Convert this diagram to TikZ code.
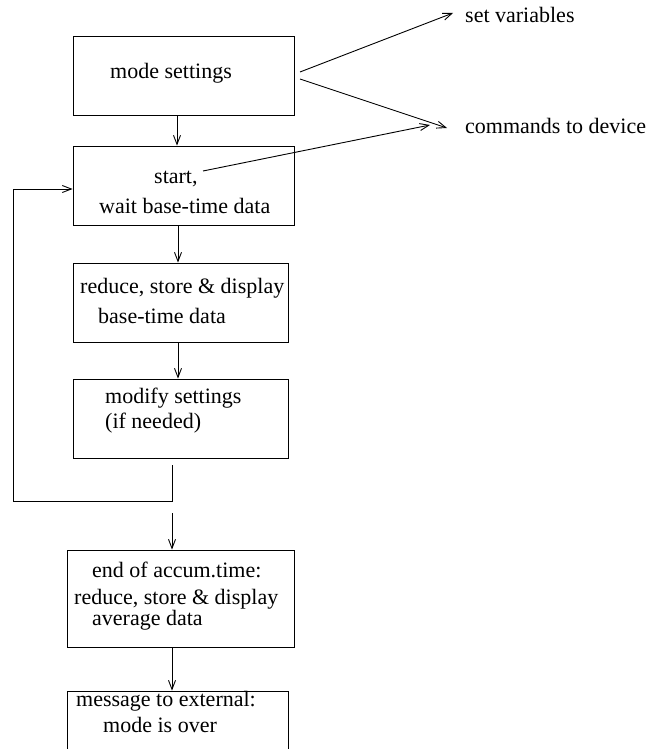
\documentclass[tikz,border=0pt]{standalone}
\usepackage{fontspec}
\setmainfont{Liberation Serif}
\newfontfamily\labelfont{Liberation Serif}
\usetikzlibrary{arrows.meta}
\tikzset{
  box/.style={draw, line width=0.9pt, rectangle, inner sep=0pt},
  txt/.style={anchor=base west, inner sep=0pt, font=\labelfont\fontsize{22}{26}\selectfont},
  arr/.style={line width=0.9pt, -{Straight Barb[length=9pt,width=7pt,line width=0.9pt]}},
}
\begin{document}
\begin{tikzpicture}[x=1pt,y=-1pt]
\clip (0,0) rectangle (648,749);
\fill[white] (0,0) rectangle (648,749);

% process boxes
\node[box, minimum width=221pt, minimum height=79pt] (b1) at (183.5,75.5) {};
\node[box, minimum width=221pt, minimum height=79pt] (b2) at (183.5,185.5) {};
\node[box, minimum width=215pt, minimum height=79pt] (b3) at (180.5,302.5) {};
\node[box, minimum width=215pt, minimum height=79pt] (b4) at (180.5,418.5) {};
\node[box, minimum width=227pt, minimum height=97pt] (b5) at (180.5,598.5) {};
\node[box, minimum width=221pt, minimum height=79pt] (b6) at (177.5,730.5) {};

% box texts
\node[txt] (t1) at (110,79) {mode settings};
\node[txt] (t2a) at (154,183) {start,};
\node[txt] (t2b) at (99,213) {wait base-time data};
\node[txt] (t3a) at (80,293) {reduce, store \& display};
\node[txt] (t3b) at (98,323) {base-time data};
\node[txt] (t4a) at (105,403) {modify settings};
\node[txt] (t4b) at (105,428) {(if needed)};
\node[txt] (t5a) at (92,577) {end of accum.time:};
\node[txt] (t5b) at (74,604) {reduce, store \& display};
\node[txt] (t5c) at (92,625) {average data};
\node[txt] (t6a) at (76,706) {message to external:};
\node[txt] (t6b) at (103,732) {mode is over};

% outputs
\node[txt] (sv) at (465,23) {set variables};
\node[txt] (cd) at (465,133) {commands to device};

% flow arrows
\draw[arr] ([xshift=-6.5pt]b1.south) -- ([xshift=-6.5pt]b2.north);
\draw[arr] ([xshift=-5.5pt]b2.south) -- ([xshift=-5.5pt]b2.south |- b3.north);
\draw[arr] ([xshift=-2.5pt]b3.south) -- ([xshift=-2.5pt]b4.north);

% feedback loop
\coordinate (l0) at (172,465);
\coordinate (l1) at (172,501);
\coordinate (l2) at (13,501);
\coordinate (l3) at (13,189);
\draw[arr] (l0) -- (l1) -- (l2) -- (l3) -- (l3 -| b2.west);

% to the final stage
\coordinate (e0) at (172,513);
\draw[arr] (e0) -- (e0 |- b5.north);
\draw[arr] ([xshift=-8.5pt]b5.south) -- ([xshift=-8.5pt]b5.south |- b6.north);

% diagonal arrows to outputs
\coordinate (m1) at (300,72);
\coordinate (m2) at (300,79);
\coordinate (s1) at (203,171);
\coordinate (sv0) at (453,13);
\coordinate (cd0) at (447,128);
\coordinate (cd1) at (430,125);
\draw[arr] (m1) -- (sv0);
\draw[arr] (m2) -- (cd0);
\draw[arr] (s1) -- (cd1);
\end{tikzpicture}
\end{document}
